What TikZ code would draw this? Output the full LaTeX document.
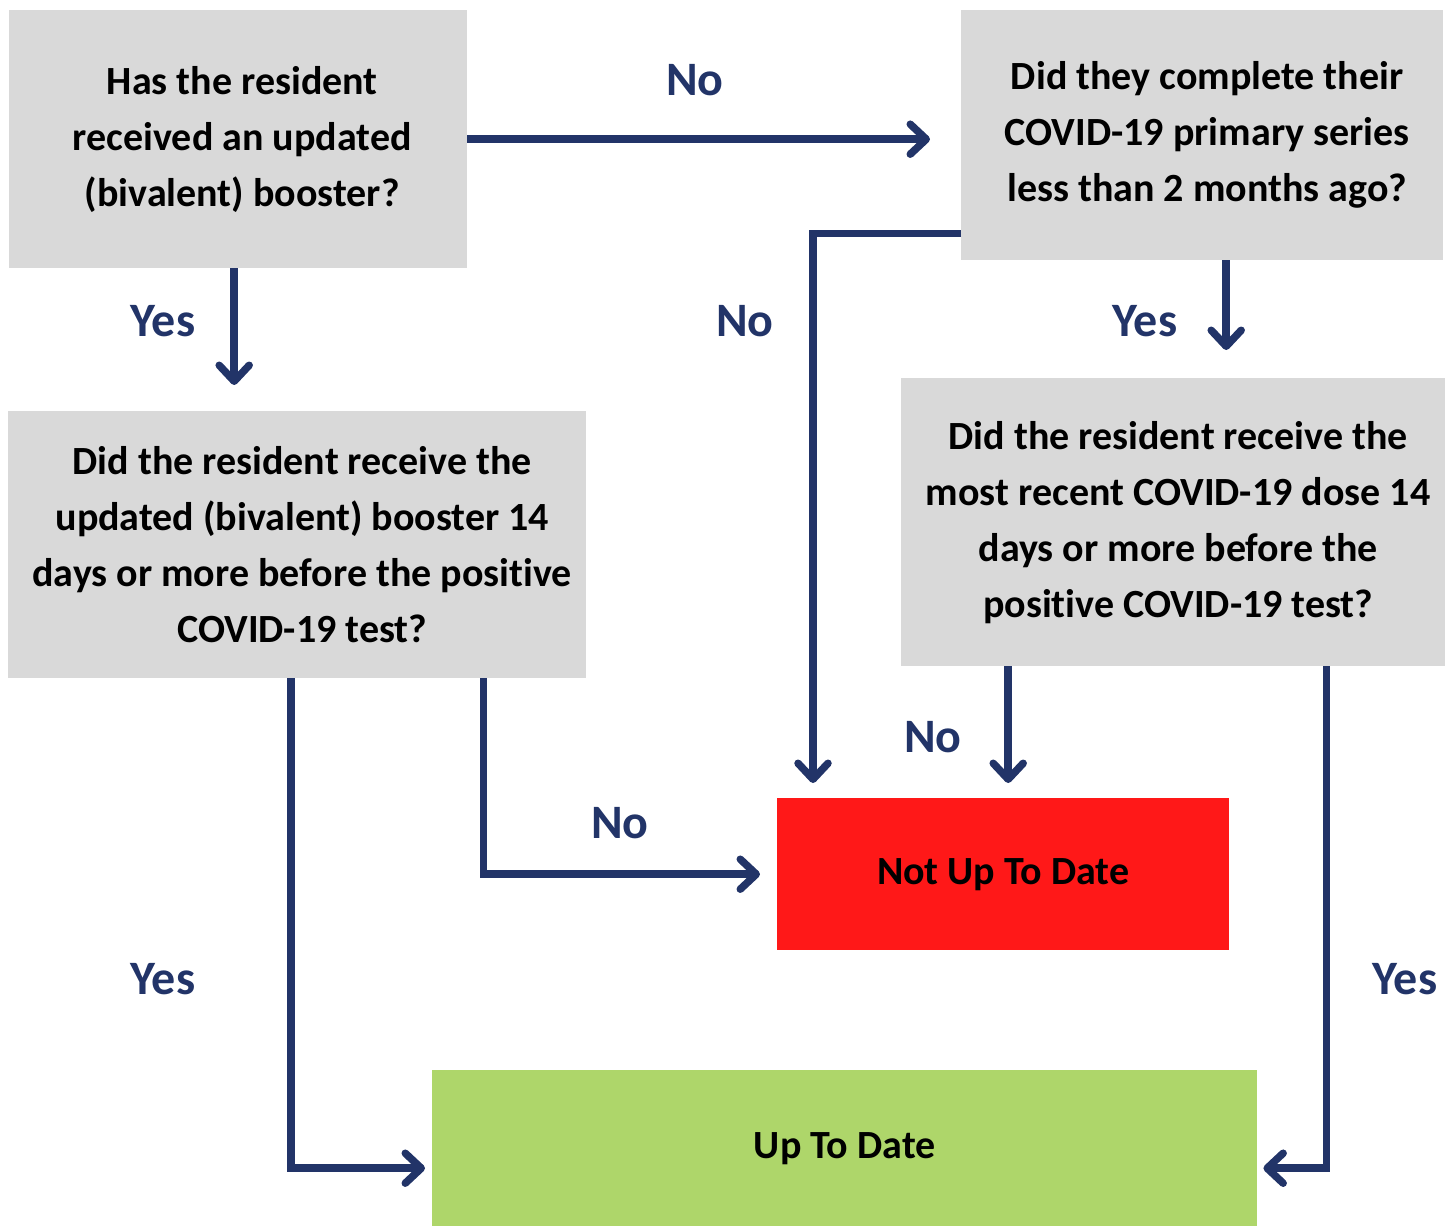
\documentclass[tikz,border=0pt]{standalone}
\usepackage{fontspec}
\setmainfont{Carlito}[Ligatures=NoCommon]
\usetikzlibrary{arrows.meta,calc}
\definecolor{navy}{RGB}{34,52,104}
\definecolor{boxgray}{RGB}{217,217,217}
\definecolor{redbox}{RGB}{255,24,24}
\definecolor{greenbox}{RGB}{174,214,106}
\tikzset{
  qbox/.style={draw=none,fill=boxgray,anchor=north west,inner sep=0pt,align=center,
    font=\bfseries\fontsize{40}{56}\selectfont},
  rbox/.style={draw=none,anchor=north west,inner sep=0pt,align=center,
    font=\bfseries\fontsize{40}{56}\selectfont},
  lbl/.style={text=navy,font=\bfseries\fontsize{48}{56}\selectfont,inner sep=0pt},
  arr/.style={draw=navy,line width=7.5pt,
    -{Straight Barb[round,length=16pt,width=30pt,line width=7.5pt]}}
}
\begin{document}
\begin{tikzpicture}[x=1pt,y=-1pt]
\useasboundingbox (0,0) rectangle (1448,1226);
% boxes
\node[qbox,minimum width=458pt,minimum height=258pt] (A) at (9,10) {\hspace*{8pt}Has the resident\\\hspace*{8pt}received an updated\\\hspace*{8pt}(bivalent) booster?};
\node[qbox,minimum width=482pt,minimum height=250pt] (B) at (961,10) {\hspace*{10pt}Did they complete their\\\hspace*{10pt}COVID-19 primary series\\\hspace*{10pt}less than 2 months ago?};
\node[qbox,minimum width=578pt,minimum height=267pt] (C) at (8,411) {\hspace*{10pt}Did the resident receive the\\\hspace*{10pt}updated (bivalent) booster 14\\\hspace*{10pt}days or more before the positive\\\hspace*{10pt}COVID-19 test?};
\node[qbox,minimum width=544pt,minimum height=288pt] (D) at (901,378) {\hspace*{10pt}Did the resident receive the\\\hspace*{10pt}most recent COVID-19 dose 14\\\hspace*{10pt}days or more before the\\\hspace*{10pt}positive COVID-19 test?};
\node[rbox,fill=redbox,minimum width=452pt,minimum height=152pt] (R) at (777,798) {Not Up To Date};
\node[rbox,fill=greenbox,minimum width=825pt,minimum height=156pt] (G) at (432,1070) {Up To Date};
% helper coordinates
\coordinate (a1) at ($(A.south)+(-4,0)$);
\coordinate (b1) at ($(B.south west)+(0,-27)$);
\coordinate (r1) at ($(R.north west)+(36,0)$);
\coordinate (b2) at ($(B.south)+(24,0)$);
\coordinate (r2) at ($(R.north)+(5,0)$);
\coordinate (d1) at ($(D.south east)+(-119,0)$);
\coordinate (g1) at ($(G.east)+(0,20)$);
\coordinate (c1) at ($(C.south east)+(-103,0)$);
\coordinate (c2) at ($(C.south west)+(283,0)$);
\coordinate (g2) at ($(G.west)+(0,20)$);
% connectors
\draw[arr,shorten >=31pt] (A.east) -- (B.west |- A.east);
\draw[arr,shorten >=26pt] (a1) -- (a1 |- C.north);
\draw[arr,shorten >=15pt] (b1) -| (r1);
\draw[arr,shorten >=28pt] (b2) -- (b2 |- D.north);
\draw[arr,shorten >=15pt] (r2 |- D.south) -- (r2);
\draw[arr,shorten >=6pt] (d1) |- (g1);
\draw[arr,shorten >=17pt] (c1) |- (R.west);
\draw[arr,shorten >=7pt] (c2) |- (g2);
% labels
\node[lbl] (l1) at (695,80) {No};
\node[lbl] (l2) at (163,321) {Yes};
\node[lbl] (l3) at (745,321) {No};
\node[lbl] (l4) at (1145,321) {Yes};
\node[lbl] (l5) at (933,737) {No};
\node[lbl] (l6) at (620,823) {No};
\node[lbl] (l7) at (163,979) {Yes};
\node[lbl] (l8) at (1405,979) {Yes};
\end{tikzpicture}
\end{document}
